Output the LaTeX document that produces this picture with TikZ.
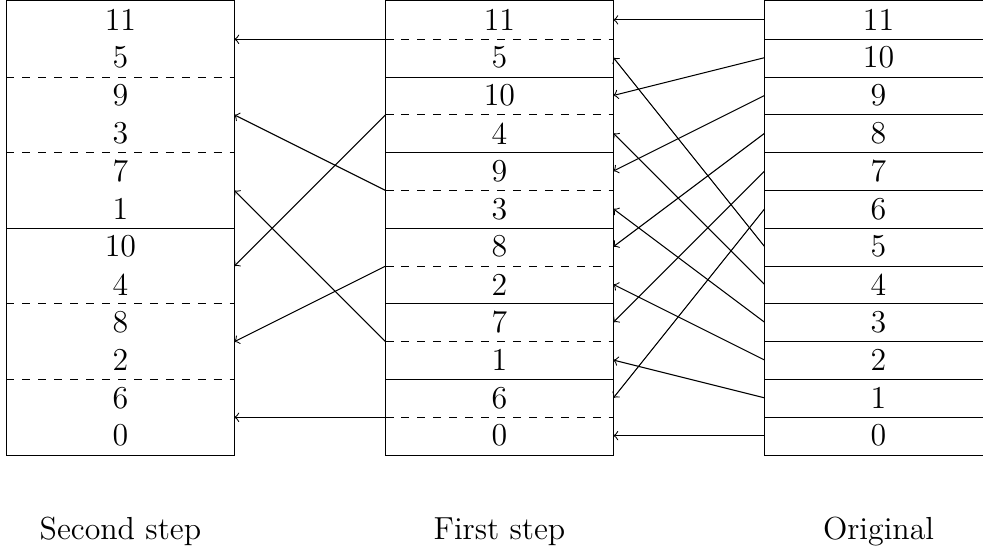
\documentclass[tikz,border=0pt,12pt]{standalone}
\usepackage{tikz}
\usetikzlibrary{matrix,positioning}

\begin{document}
\begin{tikzpicture}[
col/.style={
  matrix of nodes,
  nodes={
    minimum width=3cm,
    minimum height=5mm,
    inner sep=0pt,
    anchor=center
    },
  inner sep=0pt,
  row sep=0pt
  },
caption/.style={
  anchor=base
  },
>=to
]
\path[use as bounding box,clip] (-0.093,-1.29) rectangle (12.91,6.013);

\matrix[col] (second) at (1.5,3)
{
11\\ 5\\ 9\\ 3\\ 7\\ 1\\ 10\\ 4\\ 8\\ 2\\ 6\\ 0\\
};
\matrix[col,right=2cm of second] (first)
{
11\\ 5\\ 10\\ 4\\ 9\\ 3\\ 8\\ 2\\ 7\\ 1\\ 6\\ 0\\
};
\matrix[col,right=2cm of first] (orig)
{
11\\ 10\\ 9\\ 8\\ 7\\ 6\\ 5\\ 4\\ 3\\ 2\\ 1\\ 0\\
};
% boxes
\foreach \m in {second,first,orig}
  \draw (\m-1-1.north west) rectangle (\m-12-1.south east);
% separators
\foreach \r in {2,4,8,10}
  \draw[dashed] (second-\r-1.south west) -- (second-\r-1.south east);
\draw (second-6-1.south west) -- (second-6-1.south east);
\foreach \r in {1,3,...,11}
  \draw[dashed] (first-\r-1.south west) -- (first-\r-1.south east);
\foreach \r in {2,4,...,10}
  \draw (first-\r-1.south west) -- (first-\r-1.south east);
\foreach \r in {1,...,11}
  \draw (orig-\r-1.south west) -- (orig-\r-1.south east);
% moves
\foreach \o/\f in {1/1,2/3,3/5,4/7,5/9,6/11,7/2,8/4,9/6,10/8,11/10,12/12}
  \draw[->] (orig-\o-1.west) -- (first-\f-1.east);
\foreach \f/\s in {1/1,3/7,5/3,7/9,9/5,11/11}
  \draw[->] (first-\f-1.south west) -- (second-\s-1.south east);

\node[below=1.12cm of second,caption] (lsecond) {Second step};
\node[below=1.12cm of first,caption] (lfirst) {First step};
\node[below=1.12cm of orig,caption] (lorig) {Original};
\end{tikzpicture}
\end{document}
